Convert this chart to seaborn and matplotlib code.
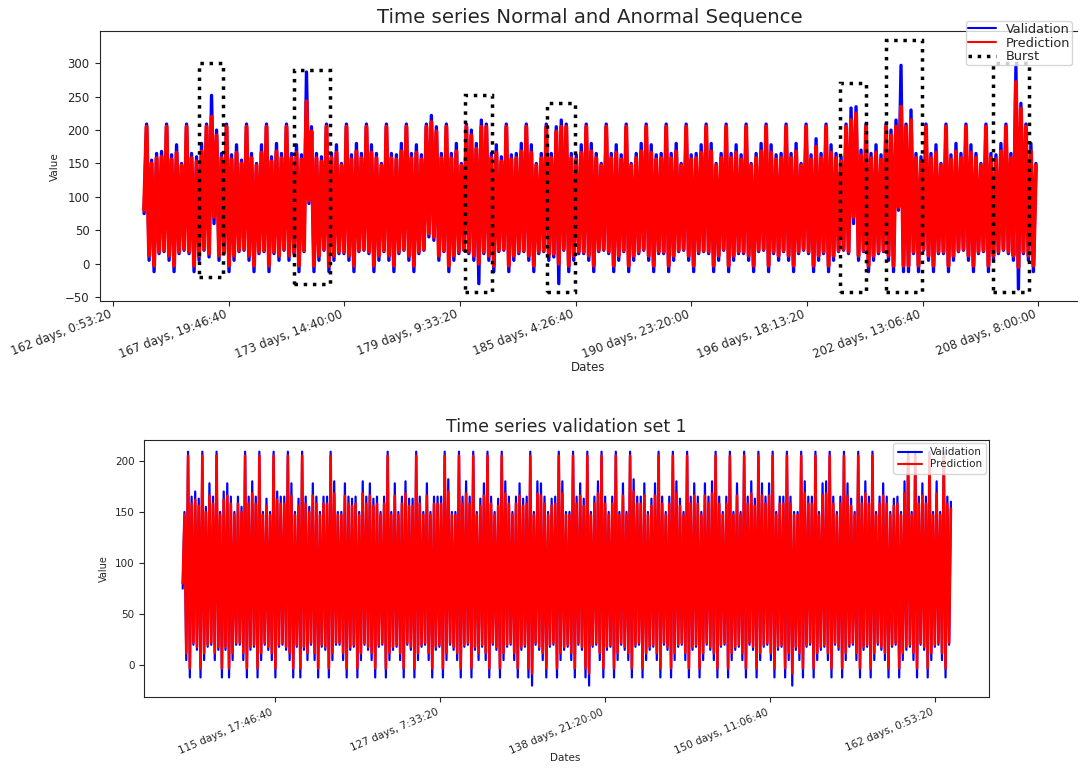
import datetime
import numpy as np
import matplotlib
matplotlib.use("Agg")
import matplotlib.pyplot as plt
import seaborn as sns
from matplotlib.ticker import FuncFormatter, MultipleLocator
from matplotlib.patches import Rectangle
from matplotlib.lines import Line2D

# ---------------- data ----------------
# top panel: test sequence, one value every 3 hours (seconds since origin)
top_start = 14_134_000
top_step = 10_800
top_val = [
    75, 209, 5, 155, -12, 165, 15, 168,
    18, 209, 5, 163, -12, 178, 15, 150,
    20, 209, 15, 165, -12, 160, 5, 180,
    20, 209, 10, 252, 60, 200, 5, 165,
    15, 209, -12, 163, 5, 178, 18, 155,
    20, 209, 5, 165, -12, 150, 15, 178,
    18, 209, -12, 160, 15, 180, 5, 165,
    20, 209, 5, 165, 15, 178, -12, 163,
    18, 287, 90, 205, -12, 165, 5, 160,
    20, 209, -12, 165, 5, 178, 15, 150,
    15, 209, 5, 163, -12, 180, 18, 165,
    20, 209, 15, 178, -12, 165, 5, 150,
    18, 209, 5, 165, -12, 163, 15, 180,
    20, 209, 5, 165, -12, 178, 15, 163,
    20, 209, 40, 222, 35, 205, 5, 165,
    18, 209, -12, 165, 5, 180, 15, 150,
    20, 209, 15, 200, 5, 180, -30, 215,
    15, 209, 5, 165, -12, 178, 18, 160,
    20, 209, -12, 163, 5, 165, 15, 180,
    18, 209, 5, 178, -12, 150, 15, 165,
    18, 209, 5, 165, 10, 205, -30, 215,
    20, 209, -12, 165, 5, 163, 15, 178,
    15, 209, 5, 180, -12, 165, 18, 150,
    20, 209, 15, 165, -12, 178, 5, 163,
    18, 209, -12, 150, 5, 165, 15, 180,
    20, 209, 5, 178, -12, 163, 15, 165,
    15, 209, -12, 165, 5, 180, 18, 150,
    20, 209, 5, 163, -12, 165, 15, 178,
    18, 209, 15, 180, -12, 150, 5, 165,
    20, 209, -12, 165, 5, 178, 15, 163,
    15, 209, 5, 150, -12, 165, 18, 180,
    20, 209, -12, 178, 15, 163, 5, 165,
    18, 209, 5, 165, -12, 180, 15, 150,
    20, 209, 15, 163, -12, 187, 5, 165,
    15, 209, -12, 178, 5, 165, 18, 160,
    20, 209, 15, 233, 60, 235, 5, 170,
    18, 209, -12, 165, 5, 178, 15, 163,
    18, 209, 5, 200, -12, 215, 80, 297,
    -12, 209, -12, 230, 15, 165, -12, 160,
    20, 209, 5, 165, -12, 178, 15, 150,
    15, 209, -12, 163, 5, 180, 18, 165,
    20, 209, 5, 178, -12, 165, 15, 150,
    18, 209, -12, 165, 5, 163, 15, 180,
    20, 209, 15, 165, 5, 295, -38, 240,
    15, 209, 5, 180, -12, 150,
]
top_pred = [
    80, 205, 12, 150, -3, 158, 18, 160,
    20, 205, 12, 156, -3, 166, 18, 147,
    22, 205, 18, 158, -3, 153, 12, 168,
    22, 205, 15, 220, 70, 192, 12, 158,
    18, 205, -3, 156, 12, 166, 20, 150,
    22, 205, 12, 158, -3, 147, 18, 166,
    20, 205, -3, 153, 18, 168, 12, 158,
    22, 205, 12, 158, 18, 166, -3, 156,
    20, 243, 95, 198, -3, 158, 12, 153,
    22, 205, -3, 158, 12, 166, 18, 147,
    18, 205, 12, 156, -3, 168, 20, 158,
    22, 205, 18, 166, -3, 158, 12, 147,
    20, 205, 12, 158, -3, 156, 18, 168,
    22, 205, 12, 158, -3, 166, 18, 156,
    22, 205, 45, 212, 40, 198, 12, 158,
    20, 205, -3, 158, 12, 168, 18, 147,
    22, 205, 18, 192, 12, 172, 0, 205,
    18, 205, 12, 158, -3, 166, 20, 153,
    22, 205, -3, 156, 12, 158, 18, 168,
    20, 205, 12, 166, -3, 147, 18, 158,
    20, 205, 12, 158, 15, 198, 0, 205,
    22, 205, -3, 158, 12, 156, 18, 166,
    18, 205, 12, 168, -3, 158, 20, 147,
    22, 205, 18, 158, -3, 166, 12, 156,
    20, 205, -3, 147, 12, 158, 18, 168,
    22, 205, 12, 166, -3, 156, 18, 158,
    18, 205, -3, 158, 12, 168, 20, 147,
    22, 205, 12, 156, -3, 158, 18, 166,
    20, 205, 18, 168, -3, 147, 12, 158,
    22, 205, -3, 158, 12, 166, 18, 156,
    18, 205, 12, 147, -3, 158, 20, 168,
    22, 205, -3, 166, 18, 156, 12, 158,
    20, 205, 12, 158, -3, 168, 18, 147,
    22, 205, 18, 156, -3, 175, 12, 158,
    18, 205, -3, 166, 12, 158, 20, 153,
    22, 205, 18, 215, 70, 225, 12, 162,
    20, 205, -3, 158, 12, 166, 18, 156,
    20, 205, 12, 192, -3, 205, 85, 235,
    -3, 205, -3, 215, 18, 158, -3, 153,
    22, 205, 12, 158, -3, 166, 18, 147,
    18, 205, -3, 156, 12, 168, 20, 158,
    22, 205, 12, 166, -3, 158, 18, 147,
    20, 205, -3, 158, 12, 156, 18, 168,
    22, 205, 18, 158, 12, 272, -5, 232,
    18, 205, 12, 168, -3, 147,
]

# burst windows drawn on the top panel (seconds, value range)
burst_start = [14_372_000, 14_783_000, 15_522_000, 15_877_000, 17_141_000, 17_340_000, 17_803_000]
burst_end = [14_473_000, 14_937_000, 15_639_000, 15_996_000, 17_255_000, 17_499_000, 17_961_000]
burst_low = [-20, -30, -43, -43, -43, -43, -43]
burst_high = [300, 290, 252, 240, 270, 335, 300]

# bottom panel: validation set 1, one value every 3 hours
bot_start = 9_443_000
bot_step = 10_800
bot_val = [
    75, 150, 5, 209, -12, 165, 20, 170,
    15, 163, -12, 209, 5, 155, 18, 178,
    20, 165, 5, 209, 15, 150, -12, 170,
    15, 178, -12, 165, 5, 150, 20, 165,
    20, 155, 5, 209, -12, 165, 15, 180,
    18, 165, -12, 209, 5, 150, 20, 163,
    15, 150, 5, 209, -12, 170, 18, 165,
    20, 165, 15, 209, 5, 178, -12, 150,
    18, 163, -12, 209, 15, 165, 5, 155,
    20, 178, 5, 165, -12, 150, 18, 165,
    15, 165, -12, 209, 5, 180, 20, 150,
    20, 150, 5, 178, -12, 165, 15, 163,
    18, 165, -12, 150, 5, 180, 20, 165,
    15, 178, 5, 163, -12, 165, 18, 150,
    20, 165, -12, 209, 5, 150, 15, 178,
    18, 150, 5, 165, -12, 180, 20, 163,
    15, 163, -12, 209, 5, 165, 18, 150,
    20, 178, 5, 150, -12, 165, 15, 165,
    18, 165, -12, 209, 5, 182, 20, 150,
    15, 150, 5, 209, -12, 165, 18, 180,
    20, 165, -12, 209, 15, 150, 5, 163,
    18, 178, 5, 209, -12, 165, 20, 150,
    15, 163, -12, 209, 5, 180, 18, 165,
    20, 150, 5, 165, -12, 178, 15, 163,
    18, 165, -12, 209, -20, 150, 20, 180,
    15, 178, 5, 165, -12, 150, 18, 163,
    20, 165, -12, 209, 5, 180, 15, 150,
    18, 150, 5, 209, -12, 165, 20, 178,
    15, 163, -12, 209, -20, 150, 18, 165,
    20, 180, 5, 209, -12, 165, 15, 150,
    18, 165, -12, 209, 5, 150, 20, 178,
    15, 150, 5, 209, -12, 182, 18, 165,
    20, 165, -12, 178, 5, 150, 15, 163,
    18, 178, 5, 209, -12, 165, 20, 150,
    15, 165, -12, 209, 5, 180, 18, 163,
    20, 150, 5, 209, -12, 165, 15, 178,
    18, 165, -12, 150, 5, 178, 20, 165,
    15, 180, 5, 209, -12, 165, 18, 150,
    20, 165, -12, 209, 5, 150, 15, 178,
    18, 150, 5, 209, -12, 165, 20, 180,
    15, 163, -12, 209, 5, 178, 18, 165,
    20, 178, 5, 209, -12, 150, 15, 165,
    18, 165, -12, 209, 5, 165, -20, 150,
    15, 150, 5, 209, -12, 180, 18, 165,
    20, 165, -12, 209, 5, 150, 15, 178,
    18, 180, 5, 209, -12, 165, 20, 150,
    15, 165, -12, 209, 5, 178, 18, 163,
    20, 150, 5, 209, -12, 165, 15, 180,
    18, 165, -12, 209, 5, 150, 20, 165,
    15, 178, 5, 165, -12, 150, 18, 163,
    20, 165, -12, 150, 5, 180, 15, 209,
    18, 150, 5, 209, -12, 165, 20, 178,
    15, 165, -12, 209, 5, 150, 18, 180,
    20, 150, 5, 209, -12, 165, 20, 160,
]
bot_pred = [
    80, 147, 12, 205, -3, 158, 22, 162,
    18, 156, -3, 205, 12, 150, 20, 166,
    22, 158, 12, 205, 18, 147, -3, 162,
    18, 166, -3, 158, 12, 147, 22, 158,
    22, 150, 12, 205, -3, 158, 18, 168,
    20, 158, -3, 205, 12, 147, 22, 156,
    18, 147, 12, 205, -3, 162, 20, 158,
    22, 158, 18, 205, 12, 166, -3, 147,
    20, 156, -3, 205, 18, 158, 12, 150,
    22, 166, 12, 158, -3, 147, 20, 158,
    18, 158, -3, 205, 12, 168, 22, 147,
    22, 147, 12, 166, -3, 158, 18, 156,
    20, 158, -3, 147, 12, 168, 22, 158,
    18, 166, 12, 156, -3, 158, 20, 147,
    22, 158, -3, 205, 12, 147, 18, 166,
    20, 147, 12, 158, -3, 168, 22, 156,
    18, 156, -3, 205, 12, 158, 20, 147,
    22, 166, 12, 147, -3, 158, 18, 158,
    20, 158, -3, 205, 12, 170, 22, 147,
    18, 147, 12, 205, -3, 158, 20, 168,
    22, 158, -3, 205, 18, 147, 12, 156,
    20, 166, 12, 205, -3, 158, 22, 147,
    18, 156, -3, 205, 12, 168, 20, 158,
    22, 147, 12, 158, -3, 166, 18, 156,
    20, 158, -3, 205, -8, 147, 22, 168,
    18, 166, 12, 158, -3, 147, 20, 156,
    22, 158, -3, 205, 12, 168, 18, 147,
    20, 147, 12, 205, -3, 158, 22, 166,
    18, 156, -3, 205, -8, 147, 20, 158,
    22, 168, 12, 205, -3, 158, 18, 147,
    20, 158, -3, 205, 12, 147, 22, 166,
    18, 147, 12, 205, -3, 170, 20, 158,
    22, 158, -3, 166, 12, 147, 18, 156,
    20, 166, 12, 205, -3, 158, 22, 147,
    18, 158, -3, 205, 12, 168, 20, 156,
    22, 147, 12, 205, -3, 158, 18, 166,
    20, 158, -3, 147, 12, 166, 22, 158,
    18, 168, 12, 205, -3, 158, 20, 147,
    22, 158, -3, 205, 12, 147, 18, 166,
    20, 147, 12, 205, -3, 158, 22, 168,
    18, 156, -3, 205, 12, 166, 20, 158,
    22, 166, 12, 205, -3, 147, 18, 158,
    20, 158, -3, 205, 12, 158, -8, 147,
    18, 147, 12, 205, -3, 168, 20, 158,
    22, 158, -3, 205, 12, 147, 18, 166,
    20, 168, 12, 205, -3, 158, 22, 147,
    18, 158, -3, 205, 12, 166, 20, 156,
    22, 147, 12, 205, -3, 158, 18, 168,
    20, 158, -3, 205, 12, 147, 22, 158,
    18, 166, 12, 158, -3, 147, 20, 156,
    22, 158, -3, 147, 12, 168, 18, 205,
    20, 147, 12, 205, -3, 158, 22, 166,
    18, 158, -3, 205, 12, 147, 20, 168,
    22, 147, 12, 205, -3, 158, 22, 153,
]

top_title = "Time series Normal and Anormal Sequence"
bot_title = "Time series validation set 1"
x_label = "Dates"
y_label = "Value"
series_names = ["Validation", "Prediction", "Burst"]

# ---------------- drawing ----------------
sns.set_style("ticks")
plt.rcParams["font.family"] = ["DejaVu Sans"]

W, H = 1078, 769
fig = plt.figure(figsize=(W / 100, H / 100), dpi=100)


def px_axes(left, top, right, bottom):
    return fig.add_axes([left / W, 1 - bottom / H, (right - left) / W, (bottom - top) / H])


ax1 = px_axes(99.5, 31.3, 1080.5, 301)
ax2 = px_axes(144.3, 440, 989.3, 697.3)

fmt = FuncFormatter(lambda x, pos: str(datetime.timedelta(seconds=int(round(x)))))

top_t = top_start + top_step * np.arange(len(top_val))
bot_t = bot_start + bot_step * np.arange(len(bot_val))

# ----- top panel -----
sns.lineplot(x=top_t, y=top_val, ax=ax1, color="blue", linewidth=2.4, legend=False)
sns.lineplot(x=top_t, y=top_pred, ax=ax1, color="red", linewidth=2.9, legend=False)
for s, e, lo, hi in zip(burst_start, burst_end, burst_low, burst_high):
    ax1.add_patch(Rectangle((s, lo), e - s, hi - lo, fill=False, edgecolor="black",
                            linestyle=":", linewidth=2.5, zorder=5))
ax1.set_ylim(-56, 348)
ax1.margins(x=0.05)
ax1.xaxis.set_major_locator(MultipleLocator(500_000))
ax1.xaxis.set_major_formatter(fmt)
ax1.set_yticks([-50, 0, 50, 100, 150, 200, 250, 300])
ax1.tick_params(axis="both", labelsize=8.5, length=3.5, width=0.8)
ax1.tick_params(axis="x", pad=1.5)
for lab in ax1.get_xticklabels():
    lab.set_rotation(21)
    lab.set_ha("right")
ax1.set_title(top_title, fontsize=14.2, pad=6)
ax1.set_xlabel(x_label, fontsize=8.5)
ax1.xaxis.set_label_coords(0.498, -0.222)
ax1.set_ylabel(y_label, fontsize=7.5)

handles1 = [Line2D([], [], color="blue", lw=1.5), Line2D([], [], color="red", lw=1.5),
            Line2D([], [], color="black", lw=2.5, ls=":")]
ax1.legend(handles1, series_names, loc="upper left", bbox_to_anchor=(966 / W, 1 - 21 / H),
           bbox_transform=fig.transFigure, fontsize=9.3, handlelength=2.2,
           handletextpad=0.7, borderaxespad=0, labelspacing=0.05, borderpad=0.15)

# ----- bottom panel -----
sns.lineplot(x=bot_t, y=bot_val, ax=ax2, color="blue", linewidth=1.6, legend=False)
sns.lineplot(x=bot_t, y=bot_pred, ax=ax2, color="red", linewidth=1.9, legend=False)
ax2.margins(x=0.05, y=0.05)
ax2.xaxis.set_major_locator(MultipleLocator(1_000_000))
ax2.xaxis.set_major_formatter(fmt)
ax2.tick_params(axis="both", labelsize=7.5, length=3.5, width=0.8)
for lab in ax2.get_xticklabels():
    lab.set_rotation(23)
    lab.set_ha("right")
ax2.set_title(bot_title, fontsize=12.5, pad=6)
ax2.set_xlabel(x_label, fontsize=7.5)
ax2.xaxis.set_label_coords(0.498, -0.215)
ax2.set_ylabel(y_label, fontsize=7)
handles2 = handles1[:2]
ax2.legend(handles2, series_names[:2], loc="upper right", fontsize=7.5,
           handlelength=2.3, labelspacing=0.2, borderaxespad=0.3)

fig.savefig("out.png", dpi=100)
